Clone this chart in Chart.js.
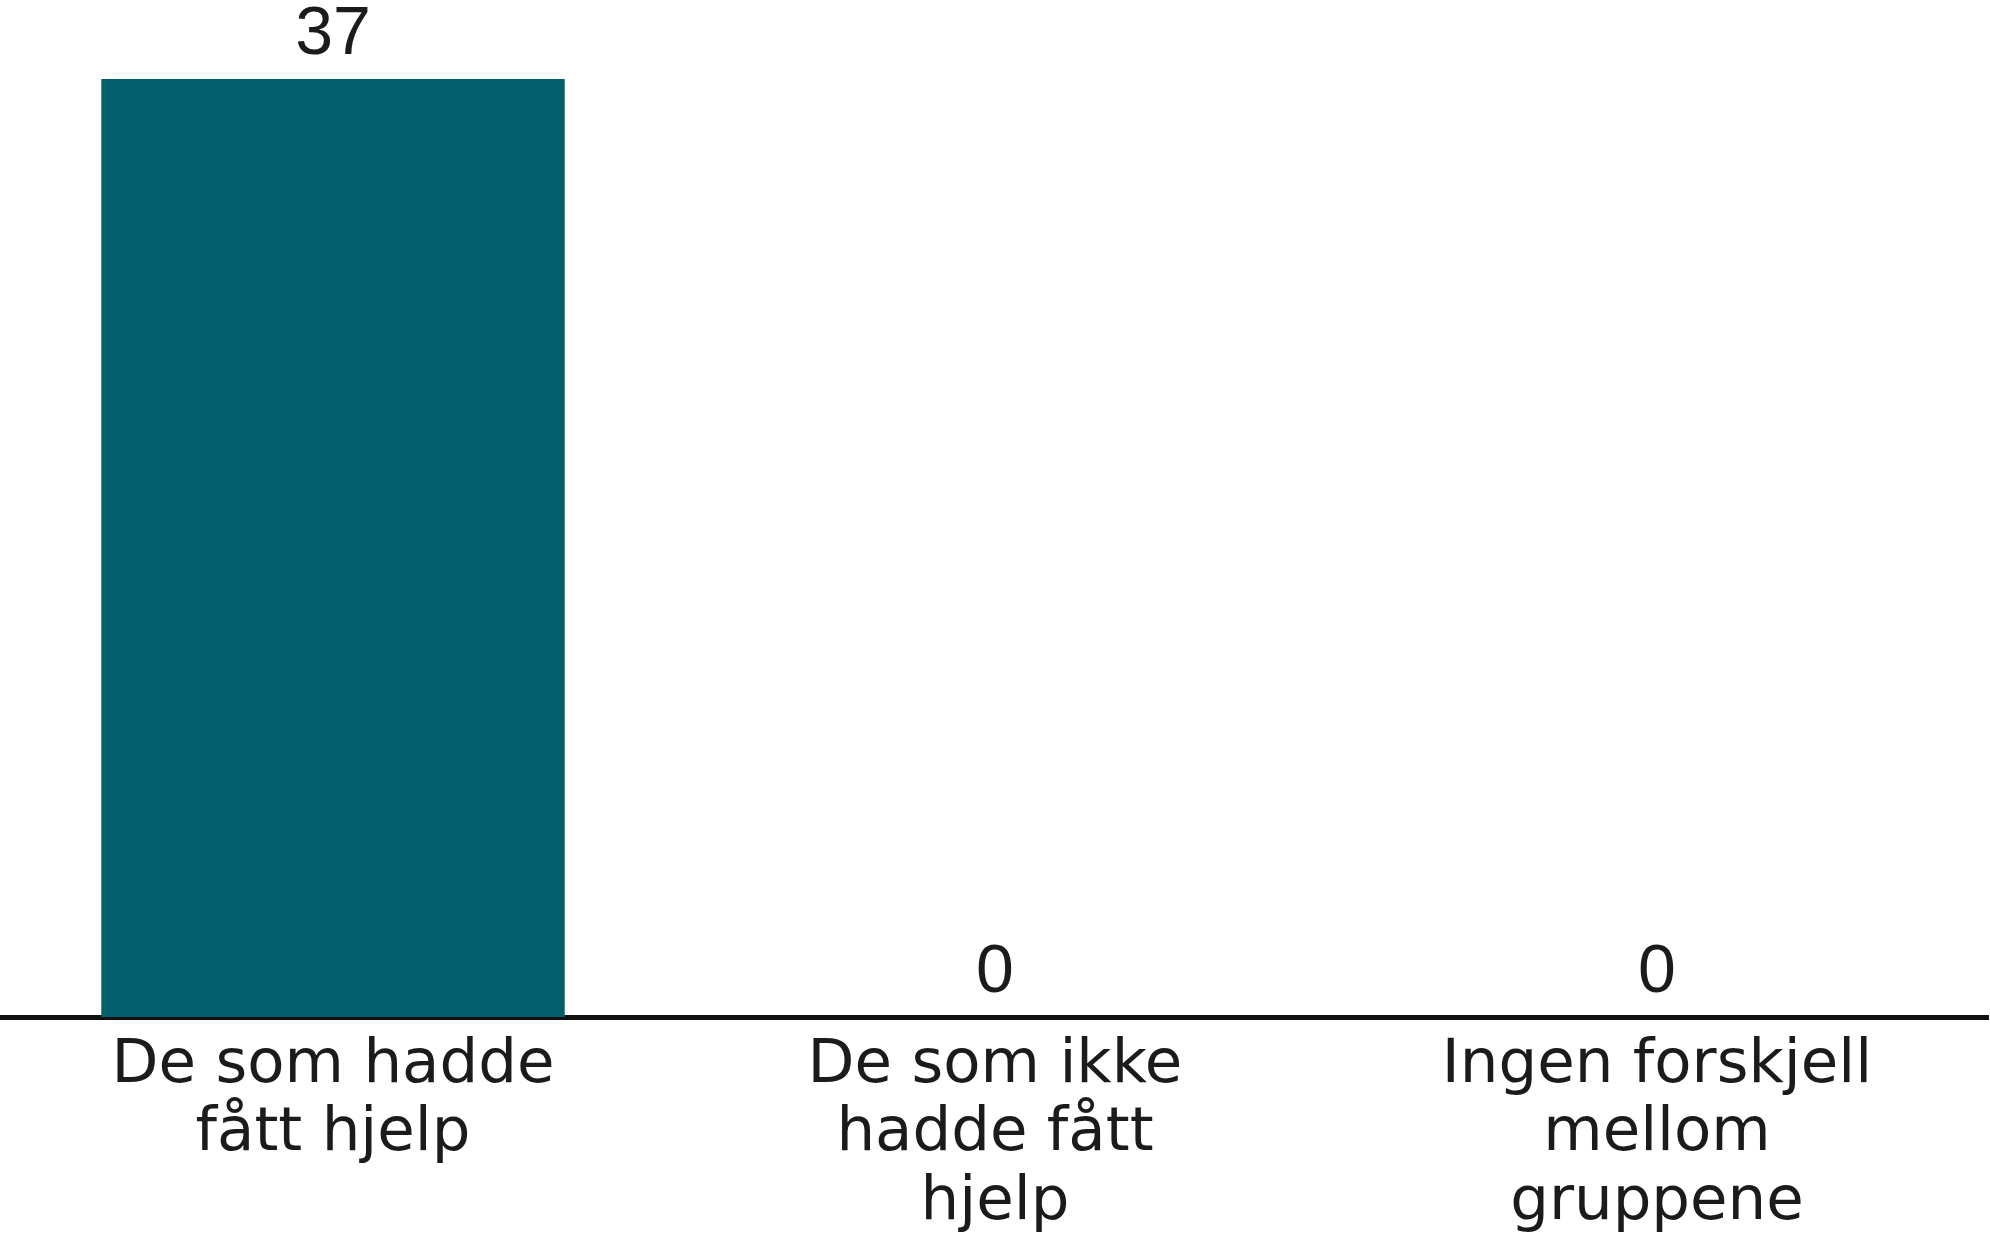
<!DOCTYPE html>
<html lang="no">
<head>
<meta charset="utf-8">
<title>De som hadde fått hjelp</title>
<script src="https://cdn.jsdelivr.net/npm/chart.js@4/dist/chart.umd.min.js"></script>
<style>
    html, body { margin: 0; padding: 0; background: #fff; overflow: hidden; }
    #wrap { position: relative; width: 1990px; height: 1236px; }
</style>
</head>
<body>
<div id="wrap"><canvas id="myChart"></canvas></div>
<script>
// Kategorier (én linje per element i hver etikett)
const categories = [
    ['De som hadde', 'fått hjelp'],
    ['De som ikke', 'hadde fått', 'hjelp'],
    ['Ingen forskjell', 'mellom', 'gruppene'],
];

const counts = [37, 0, 0];

const barColor = '#035f6b';
const textColor = '#1b1b1b';

/**
 * Writes the value of each bar just above it
 */
const valueLabels = {
    id: 'valueLabels',
    afterDatasetsDraw(chart) {
        const ctx = chart.ctx;
        const meta = chart.getDatasetMeta(0);
        ctx.save();
        ctx.font = '68px "Liberation Sans", Arial, sans-serif';
        ctx.fillStyle = textColor;
        ctx.textAlign = 'center';
        ctx.textBaseline = 'alphabetic';
        meta.data.forEach((bar, i) => {
            ctx.fillText(String(counts[i]), bar.x, bar.y - 25);
        });
        ctx.restore();
    }
};

new Chart(document.getElementById('myChart'), {
    type: 'bar',
    data: {
        labels: categories,
        datasets: [{
            data: counts,
            backgroundColor: barColor,
            borderWidth: 0,
            barPercentage: 0.7,
            categoryPercentage: 1,
        }]
    },
    options: {
        responsive: true,
        maintainAspectRatio: false,
        animation: false,
        events: [],
        layout: { padding: { top: 79, left: 2, right: 2, bottom: 0 } },
        plugins: {
            legend: { display: false },
            tooltip: { enabled: false },
        },
        scales: {
            y: {
                display: false,
                min: 0,
                max: 37,
            },
            x: {
                grid: { display: false, drawTicks: false },
                border: { display: true, color: '#111', width: 5 },
                ticks: {
                    color: textColor,
                    padding: 15,
                    maxRotation: 0,
                    autoSkip: false,
                    font: { family: '"DejaVu Sans", sans-serif', size: 61, lineHeight: 1.12 },
                },
                afterFit(scale) {
                    scale.height = 219;
                },
            }
        }
    },
    plugins: [valueLabels]
});
</script>
</body>
</html>
